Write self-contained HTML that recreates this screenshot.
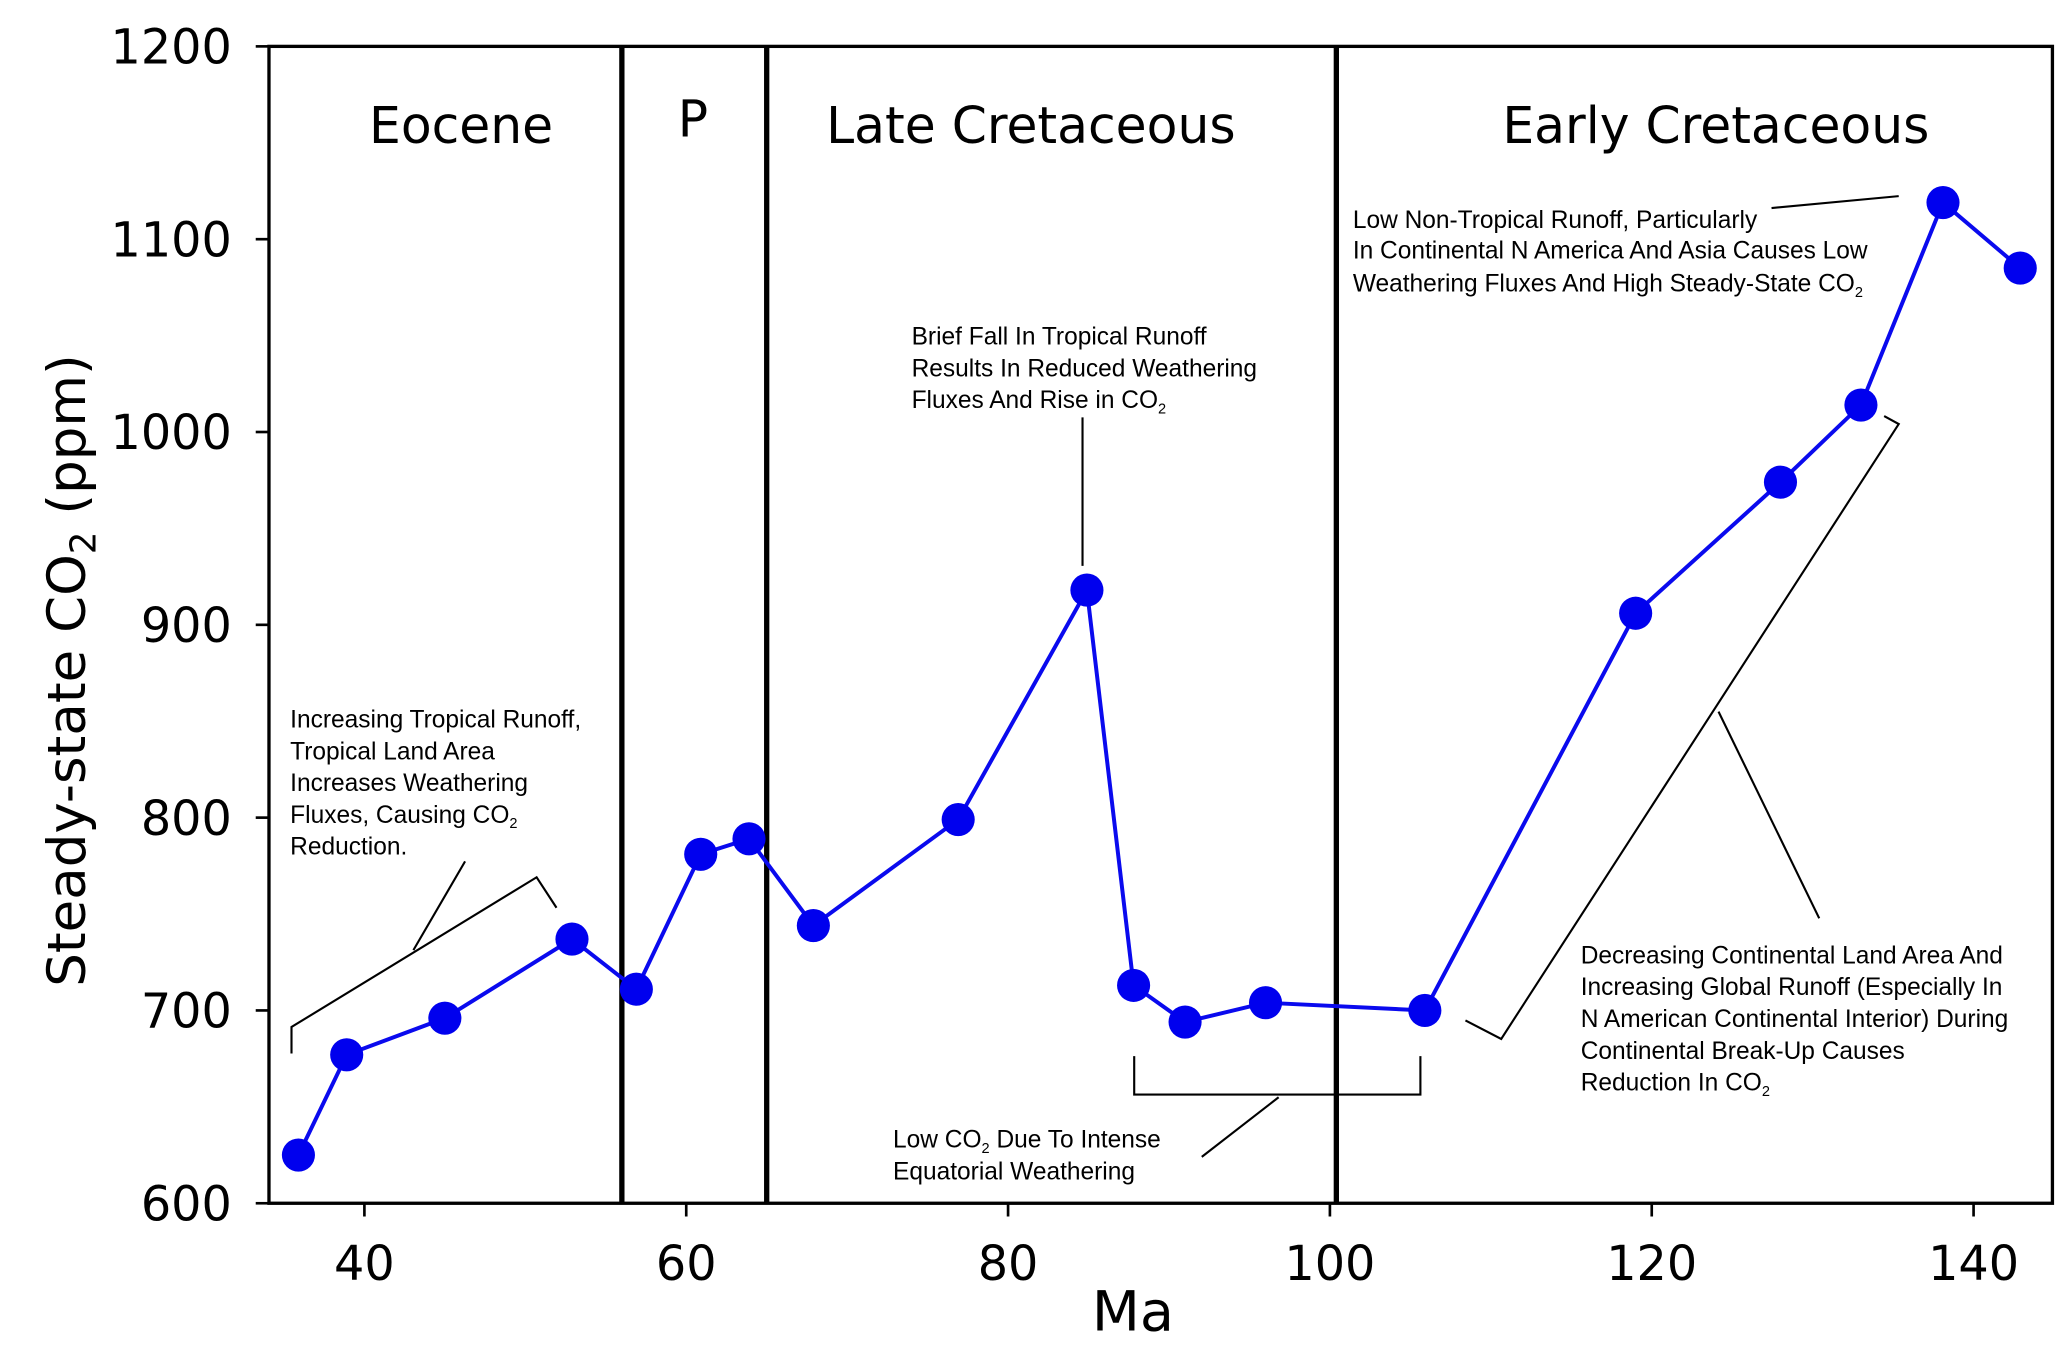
<!DOCTYPE html>
<html><head><meta charset="utf-8"><style>
html,body{margin:0;padding:0;background:#fff;}
svg{display:block;}
text{font-family:"DejaVu Sans","Liberation Sans",sans-serif;fill:#000;}
.ann text{font-family:"Liberation Sans",Arial,sans-serif;font-size:18.5px;}
</style></head><body>
<svg id="chart" width="2067" height="1353" viewBox="0 0 1560 1021" preserveAspectRatio="none" xmlns="http://www.w3.org/2000/svg">
<g id="grid"></g>
<g id="marks"></g>
<g id="annot" fill="none" stroke="#000" stroke-width="1.6">
<polyline points="220,795 220,775 405,662 420,685"/>
<line x1="312" y1="717" x2="351" y2="650"/>
<line x1="817" y1="315" x2="817" y2="427"/>
<polyline points="856,797 856,826 1072,826 1072,797"/>
<line x1="965" y1="828" x2="907" y2="873"/>
<line x1="1337" y1="157" x2="1433" y2="148"/>
<polyline points="1106,770 1133,784 1433,320 1422,314"/>
<line x1="1297" y1="537" x2="1373" y2="693"/>
</g>
<g class="ann">
<text x="219" y="549"><tspan x="219">Increasing Tropical Runoff,</tspan><tspan x="219" dy="24">Tropical Land Area</tspan><tspan x="219" dy="24">Increases Weathering</tspan><tspan x="219" dy="24">Fluxes, Causing CO<tspan font-size="11" dy="4">2</tspan></tspan><tspan x="219" dy="20">Reduction.</tspan></text>
<text x="688" y="260"><tspan x="688">Brief Fall In Tropical Runoff</tspan><tspan x="688" dy="24">Results In Reduced Weathering</tspan><tspan x="688" dy="24">Fluxes And Rise in CO<tspan font-size="11" dy="4">2</tspan></tspan></text>
<text x="1021" y="172"><tspan x="1021">Low Non-Tropical Runoff, Particularly</tspan><tspan x="1021" dy="23">In Continental N America And Asia Causes Low</tspan><tspan x="1021" dy="25">Weathering Fluxes And High Steady-State CO<tspan font-size="11" dy="4">2</tspan></tspan></text>
<text x="1193" y="727"><tspan x="1193">Decreasing Continental Land Area And</tspan><tspan x="1193" dy="24">Increasing Global Runoff (Especially In</tspan><tspan x="1193" dy="24">N American Continental Interior) During</tspan><tspan x="1193" dy="24">Continental Break-Up Causes</tspan><tspan x="1193" dy="24">Reduction In CO<tspan font-size="11" dy="4">2</tspan></tspan></text>
<text x="674" y="866"><tspan x="674">Low CO<tspan font-size="11" dy="4">2</tspan><tspan dy="-4"> Due To Intense</tspan></tspan><tspan x="674" dy="24">Equatorial Weathering</tspan></text>
</g>
<g font-size="38">
<text x="348" y="108" text-anchor="middle">Eocene</text>
<text x="523" y="103" text-anchor="middle">P</text>
<text x="778" y="108" text-anchor="middle">Late Cretaceous</text>
<text x="1295" y="108" text-anchor="middle">Early Cretaceous</text>
</g>
<text x="855" y="1004" font-size="42" text-anchor="middle">Ma</text>
<text transform="translate(64,506) rotate(-90)" font-size="40" text-anchor="middle">Steady-state CO<tspan font-size="27" dy="8">2</tspan><tspan dy="-8"> (ppm)</tspan></text>
</svg>
<script>
const xVals=[35.9,38.9,45.0,52.9,56.9,60.9,63.9,67.9,76.9,84.9,87.8,91.0,96.0,105.9,119.0,128.0,133.0,138.1,142.9];
const co2Vals=[625,677,696,737,711,781,789,744,799,918,713,694,704,700,906,974,1014,1119,1085];
const xTicks=[40,60,80,100,120,140];
const yTicks=[600,700,800,900,1000,1100,1200];
const boundaries=[56.0,65.0,100.4];
const NS='http://www.w3.org/2000/svg';
const L=203,R=1549,T=35,B=908,X0=34.07,X1=144.9,Y0=600,Y1=1200;
const sx=v=>L+(v-X0)/(X1-X0)*(R-L);
const sy=v=>B-(v-Y0)/(Y1-Y0)*(B-T);
function mk(tag,attrs,parent){const e=document.createElementNS(NS,tag);for(const k in attrs)e.setAttribute(k,attrs[k]);parent.appendChild(e);return e;}
const grid=document.getElementById('grid'),marks=document.getElementById('marks');
const frame=mk('rect',{x:L,y:T,width:R-L,height:B-T,fill:'none',stroke:'#000','stroke-width':2.5},grid);


boundaries.forEach(b=>{const l=mk('line',{x1:sx(b),x2:sx(b),y1:T,y2:B,stroke:'#000','stroke-width':4},grid);

});
xTicks.forEach(t=>{const l=mk('line',{x1:sx(t),x2:sx(t),y1:B,y2:B+10,stroke:'#000','stroke-width':2},grid);


const tx=mk('text',{x:sx(t),y:B+58,'font-size':36,'text-anchor':'middle'},grid);tx.textContent=t;

});
yTicks.forEach(t=>{const l=mk('line',{x1:L-10,x2:L,y1:sy(t),y2:sy(t),stroke:'#000','stroke-width':2},grid);


const tx=mk('text',{x:L-28,y:sy(t)+13,'font-size':36,'text-anchor':'end'},grid);tx.textContent=t;

});
const pl=mk('polyline',{points:xVals.map((x,i)=>sx(x)+','+sy(co2Vals[i])).join(' '),fill:'none',stroke:'#0a0aee','stroke-width':3},marks);


xVals.forEach((x,i)=>{const c=mk('circle',{cx:sx(x),cy:sy(co2Vals[i]),r:12.5,fill:'#0000ee'},marks);

});
</script>
</body></html>
